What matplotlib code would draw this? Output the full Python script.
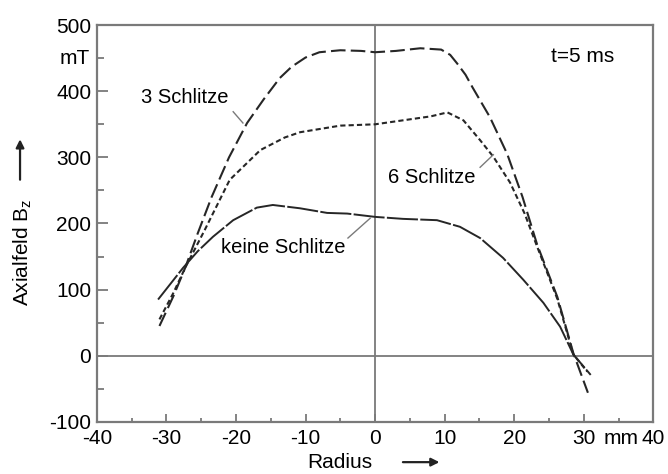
import matplotlib
matplotlib.use("Agg")
import matplotlib.pyplot as plt
from matplotlib.patches import FancyArrowPatch
from matplotlib.ticker import MultipleLocator
from matplotlib.transforms import blended_transform_factory

plt.rcParams["font.family"] = ["Liberation Sans", "DejaVu Sans"]

# radius in mm, axial field in mT
r_3 = [-31, -29, -27.3, -25.5, -23.5, -21, -18.4, -16, -13.7, -12, -10, -8, -5, -2,
       0, 3, 6.5, 9.5, 10.8, 11.8, 13, 14, 16.5, 19, 21.2, 23.3, 26.2, 28.5, 30.6]
b_3 = [45, 90, 133, 185, 240, 300, 352, 388, 420, 437, 451, 459, 462, 461,
       459, 461, 465, 463, 455, 442, 425, 406, 361, 305, 240, 168, 89, 4, -56]

r_6 = [-31, -29, -27.3, -24.5, -20.9, -16.5, -13, -10.8, -5, 0,
       4, 8, 10.4, 12.7, 15.1, 17, 19.4, 21.5, 23.3, 26.2, 28.5, 30.5]
b_6 = [55, 95, 133, 190, 266, 311, 330, 338, 348, 350,
       356, 362, 368, 356, 326, 301, 262, 215, 165, 86, 2, -24]

r_0 = [-31.2, -27.6, -25.5, -23.3, -20.4, -17, -14.7, -10.8, -6.9, -4, 0, 4, 8.9,
       12.2, 15.1, 18.4, 21.3, 24.2, 26.6, 28.5, 31]
b_0 = [85, 133, 158, 180, 205, 224, 228, 223, 216, 215, 210, 207, 205,
       195, 178, 148, 115, 80, 44, 2, -29]

LINE = "#262626"
AXIS = "#7a7a7a"

fig = plt.figure(figsize=(6.68, 4.74), dpi=100)
ax = fig.add_axes([0.145, 0.110, 0.833, 0.837])

ax.plot(r_3, b_3, color=LINE, lw=1.5, dashes=(7, 2.5))
ax.plot(r_6, b_6, color=LINE, lw=1.5, dashes=(2.5, 1.5))
ax.plot(r_0, b_0, color=LINE, lw=1.4, dashes=(16, 1.2))

ax.axhline(0, color=AXIS, lw=1.3, zorder=0)
ax.axvline(0, color=AXIS, lw=1.3, zorder=0)

ax.set_xlim(-40, 40)
ax.set_ylim(-100, 500)
ax.xaxis.set_minor_locator(MultipleLocator(5))
ax.yaxis.set_minor_locator(MultipleLocator(50))

for s in ax.spines.values():
    s.set_color(AXIS)
    s.set_linewidth(1.6)

ax.tick_params(axis="both", which="both", direction="in", color=AXIS,
               width=1.3, labelsize=15)
ax.tick_params(axis="y", which="major", length=8, pad=4)
ax.tick_params(axis="y", which="minor", length=5)
ax.tick_params(axis="x", which="major", length=6, pad=5)
ax.tick_params(axis="x", which="minor", length=3)

ax.set_xticks(range(-40, 41, 10))
ax.set_xticklabels(["-40", "-30", "-20", "-10", "0", "10", "20", "30", "40"])
ax.set_yticks(range(-100, 501, 100))
ax.set_yticklabels(["-100", "0", "100", "200", "300", "400", "500"])

# unit labels in place of tick labels
tx = blended_transform_factory(ax.transAxes, ax.transData)
ax.text(-0.012, 450, "mT", transform=tx, ha="right", va="center", fontsize=15)
ty = blended_transform_factory(ax.transData, ax.transAxes)
ax.text(35.3, -0.017, "mm", transform=ty, ha="center", va="top", fontsize=15)

# curve labels with leaders
ax.text(-27.3, 390, "3 Schlitze", ha="center", va="center", fontsize=14.5)
ax.plot([-20.4, -19], [369, 352], color=AXIS, lw=1)
ax.text(8.2, 270, "6 Schlitze", ha="center", va="center", fontsize=14.5)
ax.plot([15.1, 17], [285, 304], color=AXIS, lw=1)
ax.text(-13.2, 163, "keine Schlitze", ha="center", va="center", fontsize=14.5)
ax.plot([-3.9, -0.7], [178, 208], color=AXIS, lw=1)
ax.text(29.8, 452, "t=5 ms", ha="center", va="center", fontsize=15)

# axis titles with arrows
fig.text(0.509, 0.025, "Radius", ha="center", va="center", fontsize=15)
fig.add_artist(FancyArrowPatch(
    (0.599, 0.025), (0.662, 0.025), transform=fig.transFigure,
    arrowstyle="-|>", mutation_scale=12, color="#222222", lw=1.6))
fig.text(0.034, 0.468, "Axialfeld B$_\\mathregular{z}$", ha="center", va="center",
         rotation=90, fontsize=15)
fig.add_artist(FancyArrowPatch(
    (0.030, 0.615), (0.030, 0.712), transform=fig.transFigure,
    arrowstyle="-|>", mutation_scale=12, color="#222222", lw=1.6))

fig.savefig("out.png", dpi=100)
